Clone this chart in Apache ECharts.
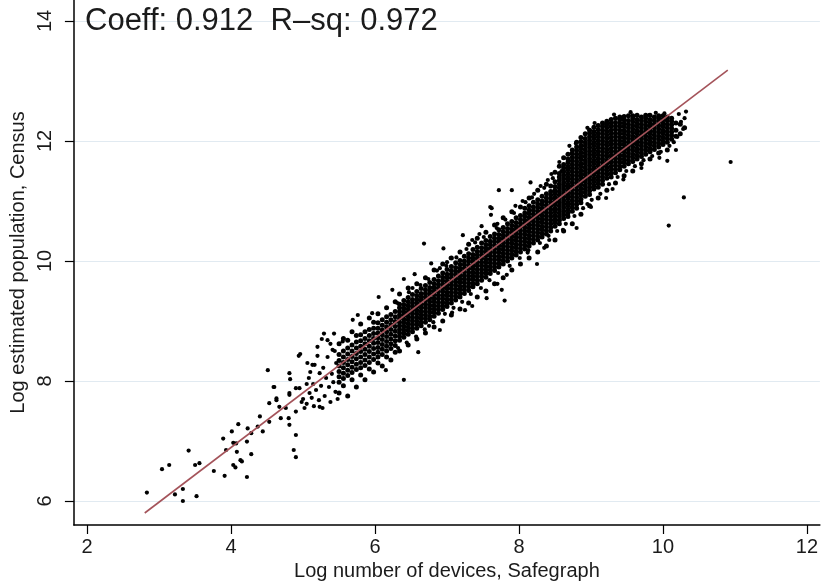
<!DOCTYPE html>
<html>
<head>
<meta charset="utf-8">
<script src="https://cdn.jsdelivr.net/npm/echarts@6/dist/echarts.min.js"></script>
<style>
html,body{margin:0;padding:0;background:#fff;}
#chart{width:821px;height:587px;}
</style>
</head>
<body>
<div id="chart"></div>
<script>
// ---- data ----
const xTicks = [2, 4, 6, 8, 10, 12];
const yTicks = [6, 8, 10, 12, 14];
const coeff = 0.912;
const rsq = 0.972;
const fitLine = [[2.8, 5.8], [10.9, 13.18]];

// scattered points (x, y)
const sparsePoints = [
  [2.83,6.14],[3.04,6.53],[3.14,6.6],[3.22,6.11],[3.33,6.2],[3.33,6.0],[3.52,6.08],[3.41,6.84],
  [3.50,6.6],[3.56,6.63],[3.76,6.5],[3.91,6.42],[3.89,7.04],[4.01,7.16],[4.10,7.28],[4.03,6.97],
  [4.07,6.96],[3.93,6.85],[4.08,6.82],[4.03,6.6],[4.06,6.56],[4.13,6.68],[4.15,6.66],[4.22,6.4],
  [4.28,6.78],[4.22,6.99],[4.23,7.21],[4.28,7.13],[4.40,7.41],[4.37,7.24],[4.44,7.16],[4.53,7.32],
  [4.59,7.9],[4.53,7.63],[4.63,7.68],[4.67,7.57],[4.76,7.55],[4.69,7.38],[4.80,7.38],[4.81,7.27],
  [4.90,7.1],[4.87,6.85],[4.90,6.73],[4.81,7.77],[4.95,7.88],[4.90,7.49],[5.02,7.55],[5.09,7.8],
  [5.18,7.85],[5.27,7.55],[5.36,7.9],[5.45,7.82],[4.51,8.18],[4.94,8.42],[4.96,8.45],[4.81,8.13],
  [4.82,8.03],[4.60,7.9],[5.16,8.27],[5.20,8.57],[5.20,8.42],[5.23,8.13],[5.08,8.05],
  [5.00,7.70],[5.05,7.62],[5.12,7.72],[5.14,7.95],[5.22,7.68],[5.25,7.92],[5.30,7.75],[5.32,8.05],
  [5.38,7.65],[5.40,8.12],[5.42,7.98],[5.46,8.30],[5.05,7.95],[5.10,8.15],[5.28,8.22],[5.34,8.40],
  [5.44,8.50],[5.48,7.70],[5.15,7.58],[4.98,7.65],[5.06,8.30],[5.38,8.62],[5.26,8.70],
  [5.29,8.79],[5.34,8.68],[5.41,8.52],[5.43,8.79],[5.55,8.66],[4.63,7.71],[4.81,7.80],[4.90,7.88],
  [5.13,8.27],[5.23,7.57],
  [6.24,9.52],[6.05,9.40],[5.96,9.13],[5.76,9.10],[5.69,9.02],[6.68,10.29],[6.78,9.96],[6.95,10.21],
  [7.22,10.43],[7.48,10.58],[7.60,10.90],[7.61,10.77],[7.62,10.88],[7.72,11.18],[7.90,11.18],[8.16,11.31],
  [8.56,11.65],[8.73,11.79],[6.40,9.70],[6.55,9.78],[7.05,10.05],[7.35,10.35],[8.05,11.00],[8.30,11.25],
  [8.45,11.45],
  [6.40,8.02],[7.07,9.14],[7.76,9.52],[7.80,9.34],[7.83,9.77],[8.12,10.14],[8.42,10.35],[8.61,10.52],
  [6.15,8.18],[6.60,8.48],[6.90,8.85],[7.35,9.25],[7.55,9.38],[8.25,9.95],[8.80,10.55],[9.00,10.90],
  [9.21,11.05],[9.30,11.20],[9.58,11.66],[9.70,11.55],[10.06,11.67],[10.18,11.85],[10.20,12.07],
  [10.25,12.32],[10.32,12.49],[10.29,11.06],[10.08,10.59],[10.94,11.65],[9.81,12.43],[9.21,12.27],
  [8.79,11.96],[9.95,11.72],[10.15,11.98],[10.22,12.45],[10.28,12.20],[10.30,12.38],
  // fringe above the band
  [6.31,9.30],[6.47,9.48],[6.63,9.60],[6.74,9.70],[6.86,9.84],[6.99,9.92],[7.13,10.06],[7.27,10.20],
  [7.39,10.31],[7.51,10.40],[7.69,10.55],[7.81,10.69],[7.93,10.80],[8.09,10.98],[8.21,11.12],[8.35,11.22],
  [8.47,11.38],[8.59,11.50],[6.52,9.55],[7.00,9.98],[7.45,10.45],[7.95,10.92],[8.40,11.35],[6.90,9.88],
  [7.70,10.62],[8.18,11.06],
  // fringe below the band
  [6.32,8.55],[6.44,8.64],[6.57,8.74],[6.69,8.86],[6.81,8.98],[6.97,9.12],[7.09,9.22],[7.21,9.32],
  [7.33,9.45],[7.47,9.55],[7.59,9.68],[7.71,9.80],[7.87,9.92],[8.01,10.05],[8.13,10.18],[8.29,10.30],
  [8.41,10.42],[8.53,10.50],[8.65,10.62],[8.77,10.75],[8.89,10.88],[9.01,11.02],[9.13,11.12],[9.25,11.28],
  [9.37,11.40],[9.49,11.50],[9.61,11.58],[9.73,11.68],[9.85,11.75],[9.97,11.82],[10.09,11.92],[6.75,8.92],
  [7.25,9.18],[7.70,9.62],[8.35,10.22],[8.95,10.95],[9.45,11.36],
  // fringe on top of the dense block
  [9.05,12.30],[9.32,12.44],[9.55,12.48],[9.90,12.47],[10.02,12.46],[8.70,11.92],[8.95,12.22]
];

// dense cloud, one row per x value: [x, y1, y2, ...]
const cloudColumns = [
  [5.50,7.80,7.98,8.07,8.16,8.25,8.34,8.44,8.62],
  [5.56,7.92,8.04,8.13,8.22,8.31,8.40,8.50,8.71],
  [5.62,7.75,8.09,8.18,8.27,8.36,8.45,8.55,8.68],
  [5.68,8.02,8.14,8.23,8.32,8.41,8.50,8.60,8.82],
  [5.74,7.90,8.19,8.28,8.37,8.46,8.55,8.65,8.76],
  [5.80,8.10,8.22,8.31,8.40,8.49,8.58,8.67,8.77,8.95],
  [5.86,8.02,8.26,8.35,8.44,8.53,8.62,8.71,8.82],
  [5.92,8.20,8.31,8.40,8.49,8.58,8.67,8.76,8.86,9.05],
  [5.98,8.15,8.36,8.45,8.54,8.63,8.71,8.79,8.88,8.98],
  [6.04,8.30,8.40,8.48,8.56,8.64,8.72,8.80,8.88,8.97,9.12],
  [6.10,8.25,8.44,8.53,8.61,8.69,8.77,8.85,8.93,9.02],
  [6.16,8.40,8.50,8.58,8.66,8.74,8.82,8.90,8.98,9.07,9.22],
  [6.22,8.35,8.54,8.62,8.70,8.78,8.86,8.94,9.02,9.11],
  [6.28,8.48,8.59,8.67,8.75,8.83,8.91,8.99,9.07,9.16,9.32],
  [6.34,8.50,8.68,8.74,8.80,8.86,8.92,8.98,9.04,9.10,9.16,9.22,9.28,9.45],
  [6.40,8.73,8.79,8.85,8.91,8.97,9.03,9.09,9.15,9.21,9.27,9.34],
  [6.46,8.60,8.78,8.84,8.90,8.96,9.02,9.08,9.14,9.20,9.26,9.32,9.39,9.55],
  [6.52,8.82,8.88,8.94,9.00,9.06,9.12,9.18,9.24,9.30,9.36,9.44],
  [6.58,8.70,8.88,8.94,9.00,9.06,9.12,9.18,9.24,9.30,9.36,9.42,9.49,9.62],
  [6.64,8.92,8.98,9.04,9.10,9.16,9.22,9.28,9.34,9.40,9.46,9.54],
  [6.70,8.80,8.98,9.04,9.10,9.16,9.22,9.28,9.34,9.40,9.46,9.52,9.59,9.72],
  [6.76,9.02,9.08,9.14,9.20,9.26,9.32,9.38,9.44,9.50,9.56,9.64],
  [6.82,8.90,9.08,9.14,9.20,9.26,9.32,9.38,9.44,9.50,9.56,9.62,9.69,9.85],
  [6.88,9.13,9.19,9.25,9.31,9.37,9.43,9.49,9.55,9.61,9.67,9.75],
  [6.94,9.00,9.19,9.25,9.31,9.37,9.43,9.49,9.55,9.61,9.67,9.73,9.80,9.95],
  [7.00,9.24,9.30,9.36,9.42,9.48,9.54,9.60,9.66,9.72,9.78,9.86],
  [7.06,9.10,9.30,9.36,9.42,9.48,9.54,9.60,9.66,9.72,9.78,9.84,9.91,10.05],
  [7.12,9.35,9.41,9.47,9.53,9.59,9.65,9.71,9.77,9.83,9.89,9.97],
  [7.18,9.20,9.40,9.46,9.52,9.58,9.64,9.70,9.76,9.82,9.88,9.94,10.01,10.15],
  [7.24,9.46,9.52,9.58,9.64,9.70,9.76,9.82,9.88,9.94,10.00,10.08],
  [7.30,9.30,9.51,9.57,9.63,9.69,9.75,9.81,9.87,9.93,9.99,10.05,10.12,10.28],
  [7.36,9.57,9.63,9.69,9.75,9.81,9.87,9.93,9.99,10.05,10.11,10.19],
  [7.42,9.40,9.62,9.68,9.74,9.80,9.86,9.92,9.98,10.04,10.10,10.16,10.23,10.38],
  [7.48,9.68,9.74,9.80,9.86,9.92,9.98,10.04,10.10,10.16,10.22,10.30],
  [7.54,9.50,9.73,9.79,9.85,9.91,9.97,10.03,10.09,10.15,10.21,10.27,10.34,10.48],
  [7.60,9.79,9.85,9.91,9.97,10.03,10.09,10.15,10.21,10.27,10.33,10.41],
  [7.66,9.62,9.84,9.90,9.96,10.02,10.08,10.14,10.20,10.26,10.32,10.38,10.45,10.60],
  [7.72,9.90,9.96,10.02,10.08,10.14,10.20,10.26,10.32,10.38,10.44,10.52],
  [7.78,9.72,9.95,10.01,10.07,10.13,10.19,10.25,10.31,10.37,10.43,10.49,10.56,10.72],
  [7.84,10.00,10.06,10.12,10.18,10.24,10.30,10.36,10.42,10.48,10.54,10.62],
  [7.90,9.85,10.05,10.11,10.17,10.23,10.29,10.35,10.41,10.47,10.53,10.59,10.66,10.82],
  [7.96,10.10,10.16,10.22,10.28,10.34,10.40,10.46,10.52,10.58,10.64,10.72],
  [8.02,9.95,10.15,10.21,10.27,10.33,10.39,10.45,10.51,10.57,10.63,10.69,10.76,10.90],
  [8.08,10.20,10.26,10.32,10.38,10.44,10.50,10.56,10.62,10.68,10.74,10.80,10.88],
  [8.14,10.05,10.25,10.31,10.37,10.43,10.49,10.55,10.61,10.67,10.73,10.79,10.85,10.92,11.05],
  [8.20,10.30,10.36,10.42,10.48,10.54,10.60,10.66,10.72,10.78,10.84,10.90,10.98],
  [8.26,10.15,10.35,10.41,10.47,10.53,10.59,10.65,10.71,10.77,10.83,10.89,10.95,11.02,11.18],
  [8.32,10.40,10.46,10.52,10.58,10.64,10.70,10.76,10.82,10.88,10.94,11.00,11.08],
  [8.38,10.25,10.45,10.51,10.57,10.63,10.69,10.75,10.81,10.87,10.93,10.99,11.05,11.12,11.28],
  [8.44,10.50,10.56,10.62,10.68,10.74,10.80,10.86,10.92,10.98,11.04,11.10,11.16,11.25],
  [8.50,10.35,10.58,10.64,10.70,10.76,10.82,10.88,10.94,11.00,11.06,11.12,11.18,11.24,11.32,11.48],
  [8.56,10.62,10.68,10.74,10.80,10.86,10.92,10.98,11.04,11.10,11.16,11.22,11.28,11.34,11.40,11.46,11.58],
  [8.62,10.50,10.71,10.77,10.83,10.89,10.95,11.01,11.07,11.13,11.19,11.25,11.31,11.37,11.43,11.49,11.55,11.61,11.72],
  [8.68,10.74,10.80,10.86,10.92,10.98,11.04,11.10,11.16,11.22,11.28,11.34,11.40,11.46,11.52,11.58,11.64,11.70,11.78],
  [8.74,10.62,10.83,10.89,10.95,11.01,11.07,11.13,11.19,11.25,11.31,11.37,11.43,11.49,11.55,11.61,11.67,11.73,11.79,11.85],
  [8.80,10.88,10.94,11.00,11.06,11.12,11.18,11.24,11.30,11.36,11.42,11.48,11.54,11.60,11.66,11.72,11.78,11.84,11.90,11.98],
  [8.86,10.78,10.97,11.03,11.09,11.15,11.21,11.27,11.33,11.39,11.45,11.51,11.57,11.63,11.69,11.75,11.81,11.87,11.93,11.99,12.06],
  [8.92,11.08,11.14,11.20,11.26,11.32,11.38,11.44,11.50,11.56,11.62,11.68,11.74,11.80,11.86,11.92,11.98,12.04,12.12],
  [8.98,10.92,11.11,11.17,11.23,11.29,11.35,11.41,11.47,11.53,11.59,11.65,11.71,11.77,11.83,11.89,11.95,12.01,12.07,12.13,12.18],
  [9.04,11.20,11.26,11.32,11.38,11.44,11.50,11.56,11.62,11.68,11.74,11.80,11.86,11.92,11.98,12.04,12.10,12.16,12.23],
  [9.10,11.05,11.23,11.29,11.35,11.41,11.47,11.53,11.59,11.65,11.71,11.77,11.83,11.89,11.95,12.01,12.07,12.13,12.19,12.26],
  [9.16,11.28,11.34,11.40,11.46,11.52,11.58,11.64,11.70,11.76,11.82,11.88,11.94,12.00,12.06,12.12,12.18,12.24,12.30],
  [9.22,11.18,11.38,11.44,11.50,11.56,11.62,11.68,11.74,11.80,11.86,11.92,11.98,12.04,12.10,12.16,12.22,12.28,12.33],
  [9.28,11.40,11.46,11.52,11.58,11.64,11.70,11.76,11.82,11.88,11.94,12.00,12.06,12.12,12.18,12.24,12.30,12.36],
  [9.34,11.30,11.47,11.53,11.59,11.65,11.71,11.77,11.83,11.89,11.95,12.01,12.07,12.13,12.19,12.25,12.31,12.38],
  [9.40,11.52,11.58,11.64,11.70,11.76,11.82,11.88,11.94,12.00,12.06,12.12,12.18,12.24,12.30,12.36,12.40],
  [9.46,11.42,11.58,11.64,11.70,11.76,11.82,11.88,11.94,12.00,12.06,12.12,12.18,12.24,12.30,12.36,12.41],
  [9.52,11.62,11.68,11.74,11.80,11.86,11.92,11.98,12.04,12.10,12.16,12.22,12.28,12.34,12.42],
  [9.58,11.50,11.66,11.72,11.78,11.84,11.90,11.96,12.02,12.08,12.14,12.20,12.26,12.32,12.38,12.42],
  [9.64,11.70,11.76,11.82,11.88,11.94,12.00,12.06,12.12,12.18,12.24,12.30,12.36,12.43],
  [9.70,11.62,11.74,11.80,11.86,11.92,11.98,12.04,12.10,12.16,12.22,12.28,12.34,12.40],
  [9.76,11.78,11.84,11.90,11.96,12.02,12.08,12.14,12.20,12.26,12.32,12.38,12.43],
  [9.82,11.70,11.82,11.88,11.94,12.00,12.06,12.12,12.18,12.24,12.30,12.36,12.43],
  [9.88,11.86,11.92,11.98,12.04,12.10,12.16,12.22,12.28,12.34,12.40],
  [9.94,11.80,11.90,11.96,12.02,12.08,12.14,12.20,12.26,12.32,12.38,12.42],
  [10.00,11.94,12.00,12.06,12.12,12.18,12.24,12.30,12.36,12.42],
  [10.06,11.85,11.98,12.04,12.10,12.16,12.22,12.28,12.34,12.40],
  [10.12,12.03,12.09,12.15,12.21,12.27,12.33,12.38],
  [10.18,12.08,12.18,12.30],
  [10.24,12.12,12.28],
  [10.30,12.22]
];

// ---- build chart ----
const cloudPoints = [];
cloudColumns.forEach(col => {
  for (let i = 1; i < col.length; i++) cloudPoints.push([col[0], col[i]]);
});

const FONT = "'Liberation Sans', Arial, Helvetica, sans-serif";
const TXT = '#1b1b1b';

const chart = echarts.init(document.getElementById('chart'), null, {renderer: 'canvas'});
chart.setOption({
  animation: false,
  backgroundColor: '#ffffff',
  title: {
    text: 'Coeff: ' + coeff.toFixed(3) + '  R\u2013sq: ' + rsq.toFixed(3),
    left: 80, top: 1,
    textStyle: {fontFamily: FONT, fontSize: 31, fontWeight: 'normal', color: TXT}
  },
  grid: {left: 70, right: 1, top: 0, bottom: 62, containLabel: false},
  xAxis: {
    type: 'value', min: 1.816, max: 12.18,
    name: 'Log number of devices, Safegraph',
    nameLocation: 'middle', nameGap: 35,
    nameTextStyle: {fontFamily: FONT, fontSize: 20, color: TXT},
    axisLine: {show: true, onZero: false, lineStyle: {color: '#000', width: 1.5}},
    axisTick: {show: true, length: 9, inside: false, customValues: xTicks, lineStyle: {color: '#000', width: 1.2}},
    axisLabel: {customValues: xTicks, margin: 12, fontFamily: FONT, fontSize: 20, color: TXT},
    splitLine: {show: false}
  },
  yAxis: {
    type: 'value', min: 5.6, max: 14.35,
    name: 'Log estimated population, Census',
    nameLocation: 'middle', nameGap: 43,
    nameTextStyle: {fontFamily: FONT, fontSize: 20, color: TXT},
    axisLine: {show: true, onZero: false, lineStyle: {color: '#000', width: 1.5}},
    axisTick: {show: true, length: 9, customValues: yTicks, lineStyle: {color: '#000', width: 1.2}},
    axisLabel: {customValues: yTicks, rotate: 90, margin: 18, fontFamily: FONT, fontSize: 20, color: TXT},
    splitLine: {show: false}
  },
  series: [
    {
      type: 'line', data: [], z: 0, silent: true,
      markLine: {
        silent: true, symbol: 'none', animation: false, z: 0,
        label: {show: false},
        lineStyle: {color: '#e1eaf1', width: 1.2, type: 'solid'},
        data: yTicks.map(v => ({yAxis: v}))
      }
    },
    {
      type: 'scatter', data: cloudPoints, z: 8, silent: true,
      symbol: 'circle', symbolSize: 5,
      itemStyle: {color: '#000', opacity: 1}
    },
    {
      type: 'scatter', data: sparsePoints, z: 8, silent: true,
      symbol: 'circle', symbolSize: 4.2,
      itemStyle: {color: '#000', opacity: 1}
    },
    {
      type: 'line', data: fitLine, z: 9, silent: true,
      symbol: 'none',
      lineStyle: {color: '#a4535a', width: 1.6}
    }
  ]
});
</script>
</body>
</html>
